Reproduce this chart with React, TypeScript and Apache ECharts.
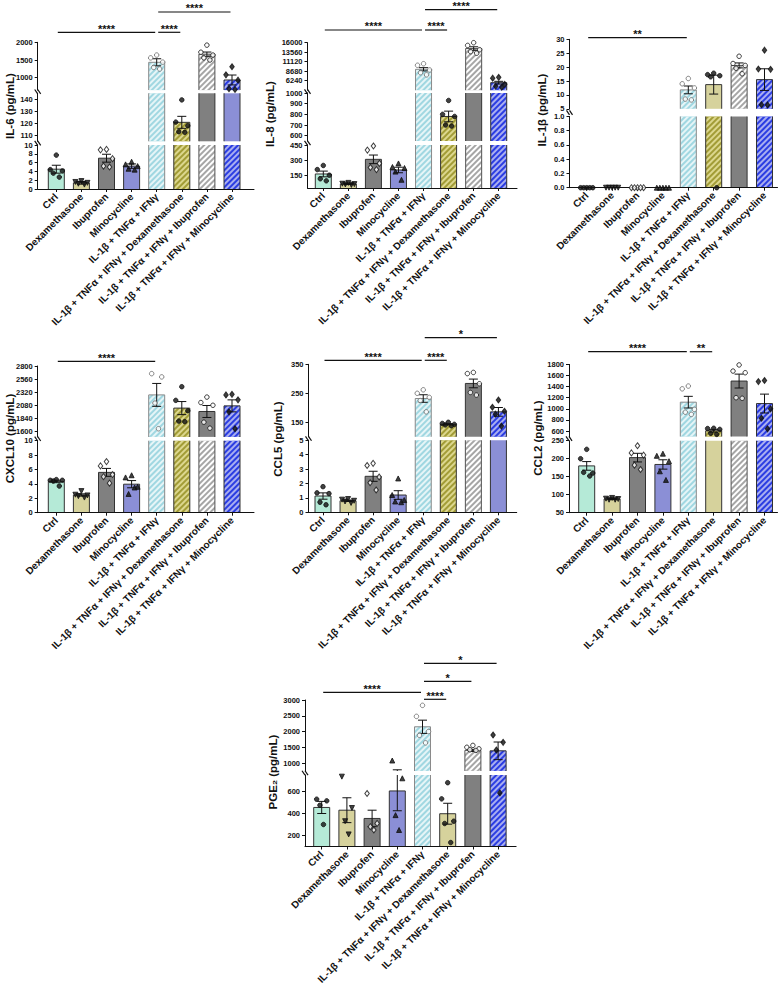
import { useEffect, useRef } from 'react';
import * as echarts from 'echarts';

// Treatment groups (x categories)
const categories = [
  'Ctrl',
  'Dexamethasone',
  'Ibuprofen',
  'Minocycline',
  'IL-1β + TNFα + IFNγ',
  'IL-1β + TNFα + IFNγ + Dexamethasone',
  'IL-1β + TNFα + IFNγ + Ibuprofen',
  'IL-1β + TNFα + IFNγ + Minocycline',
];

// ---- IL-6 ----
const il6Means = [4.5, 1.4, 7.0, 5.2, 1435, 120.8, 1665, 936];
const il6Sems = [0.9, 0.3, 0.9, 0.5, 100, 5, 60, 140];
const il6Points = [
  [7.7, 4.4, 4.1, 3.6, 2.7],
  [1.8, 1.6, 1.4, 1.2, 1.0],
  [9.0, 8.9, 6.9, 5.2, 5.0],
  [6.2, 5.6, 5.2, 4.6, 4.4],
  [1640, 1560, 1440, 1290, 1245],
  [139.5, 121, 118, 113, 112.5],
  [1920, 1720, 1640, 1560, 1500],
  [1310, 1080, 930, 690, 670],
];
const il6Ticks = [[1000, 1500, 2000], [110, 120, 130, 140], [0, 2, 4, 6, 8, 10]];

// ---- IL-8 ----
const il8Means = [167, 69, 310, 206, 9170, 780, 14500, 5730];
const il8Sems = [28, 5, 42, 27, 420, 50, 450, 350];
const il8Points = [
  [250, 210, 155, 120, 100],
  [80, 72, 68, 65, 60],
  [440, 400, 270, 230, 210],
  [270, 235, 225, 190, 110],
  [10600, 10200, 9000, 8300, 7750],
  [930, 800, 780, 700, 690],
  [16000, 15300, 14200, 13700, 13300],
  [7100, 6900, 5300, 4800, 4550],
];
const il8Ticks = [[6240, 8680, 11120, 13560, 16000], [600, 700, 800, 900, 1000], [150, 300, 450]];

// ---- IL-1β ----
const il1bMeans = [0, 0, 0, 0, 11.8, 13.7, 20.6, 15.5];
const il1bSems = [0, 0, 0, 0, 1.4, 3.4, 0.9, 3.9];
const il1bPoints = [
  [0, 0, 0, 0, 0],
  [0, 0, 0, 0, 0],
  [0, 0, 0, 0, 0],
  [0, 0, 0, 0, 0],
  [15.9, 14, 12.5, 8.5, 8.2],
  [17.8, 17.3, 16.9, 16.5, 0],
  [23.9, 21.3, 20.6, 19.6, 17.6],
  [26.1, 19.3, 19.2, 6.5, 6.4],
];
const il1bTicks = [[5, 10, 15, 20, 25, 30], [0, 0.2, 0.4, 0.6, 0.8, 1.0]];

// ---- CXCL10 ----
const cxcl10Means = [4.34, 2.46, 5.6, 3.96, 2270, 2028, 1966, 2069];
const cxcl10Sems = [0.17, 0.16, 0.55, 0.5, 210, 120, 110, 110];
const cxcl10Points = [
  [4.6, 4.5, 4.5, 4.4, 3.7],
  [3.0, 2.5, 2.4, 2.3, 2.1],
  [7.1, 6.5, 5.3, 5.0, 4.1],
  [5.2, 4.9, 3.6, 2.6, 3.5],
  [2660, 2600, 2120, 1650],
  [2420, 2170, 1980, 1790, 1780],
  [2230, 2130, 2080, 1770, 1660],
  [2280, 2270, 2180, 1960, 1650],
];
const cxcl10Ticks = [[1600, 1840, 2080, 2320, 2560, 2800], [0, 2, 4, 6, 8, 10]];

// ---- CCL5 ----
const ccl5Means = [1.13, 0.8, 2.5, 1.2, 232, 143, 284, 186];
const ccl5Sems = [0.22, 0.05, 0.35, 0.3, 13, 2, 15, 15];
const ccl5Points = [
  [1.78, 1.35, 1.3, 0.7, 0.52],
  [0.92, 0.88, 0.8, 0.75, 0.65],
  [3.4, 3.25, 2.45, 2.05, 1.55],
  [2.35, 1.2, 0.85, 0.75, 0.7],
  [262, 250, 236, 225, 186],
  [150, 146, 143, 141, 138],
  [322, 318, 283, 253, 244],
  [227, 202, 188, 178, 137],
];
const ccl5Ticks = [[150, 250, 350], [0, 1, 2, 3, 4, 5]];

// ---- CCL2 ----
const ccl2Means = [180, 88, 203, 184, 1120, 605, 1500, 1095];
const ccl2Sems = [12, 1.5, 12, 13, 105, 25, 125, 170];
const ccl2Points = [
  [226, 200, 160, 162, 152],
  [91, 89, 88, 86, 86],
  [236, 216, 210, 182, 170],
  [214, 208, 193, 165, 141],
  [1410, 1360, 990, 940, 900],
  [650, 645, 630, 560, 540],
  [1790, 1680, 1650, 1200, 1190],
  [1510, 1490, 1000, 830, 640],
];
const ccl2Ticks = [[600, 800, 1000, 1200, 1400, 1600, 1800], [50, 100, 150, 200, 250]];

// ---- PGE2 ----
const pge2Means = [455, 430, 355, 605, 2150, 398, 1400, 1387];
const pge2Sems = [55, 113, 75, 180, 210, 95, 35, 280];
const pge2Points = [
  [530, 515, 475, 300],
  [735, 450, 330, 210],
  [582, 310, 280, 250],
  [1080, 720, 385, 250],
  [2830, 2480, 2000, 1880, 1640],
  [680, 533, 330, 309, 136],
  [1560, 1500, 1450, 1420, 1400],
  [1890, 1657, 1413, 587],
];
const pge2Ticks = [[1000, 1500, 2000, 2500, 3000], [200, 400, 600]];

const FONT = "'Liberation Sans', Arial, Helvetica, sans-serif";
const INK = '#111';
const BAR_W = 16;

// Bar fills: solid colours and hatched variants
const fills: Record<string, { base: string; stripe?: string; edge: string }> = {
  mint: { base: '#b5ead7', edge: '#333' },
  khaki: { base: '#d6d29c', edge: '#333' },
  gray: { base: '#808080', edge: '#333' },
  lav: { base: '#8b8fd6', edge: '#333' },
  cyanH: { base: '#a0d7e1', stripe: '#e6f5f7', edge: '#8a8a8a' },
  oliveH: { base: '#a29c36', stripe: '#dcd78e', edge: '#333' },
  grayH: { base: '#a6a6a6', stripe: '#ffffff', edge: '#555' },
  blueH: { base: '#2b3de2', stripe: '#a9aef0', edge: '#333' },
};

const barStyle = (key: string) => {
  const f = fills[key];
  const style: any = { color: f.base, borderWidth: 0 };
  if (f.stripe) {
    style.decal = {
      symbol: 'rect',
      symbolSize: 1,
      color: f.stripe,
      dashArrayX: [1, 0],
      dashArrayY: [2, 2],
      rotation: -Math.PI / 4,
    };
  }
  return style;
};

// Marker per group
const markers = [
  { symbol: 'circle', size: 4.5, rotate: 0, fill: INK, stroke: INK },
  { symbol: 'triangle', size: 5, rotate: 180, fill: INK, stroke: INK },
  { symbol: 'diamond', size: [4.5, 6], rotate: 0, fill: '#fff', stroke: INK },
  { symbol: 'triangle', size: 5, rotate: 0, fill: INK, stroke: INK },
  { symbol: 'circle', size: 4.5, rotate: 0, fill: '#fff', stroke: '#666' },
  { symbol: 'circle', size: 4.5, rotate: 0, fill: INK, stroke: INK },
  { symbol: 'circle', size: 4.5, rotate: 0, fill: '#fff', stroke: INK },
  { symbol: 'diamond', size: [4.5, 6], rotate: 0, fill: INK, stroke: INK },
];

// Horizontal scatter spread of replicate points (in category units)
const spreads: Record<number, number[]> = {
  1: [0],
  2: [-0.12, 0.12],
  3: [0, -0.2, 0.2],
  4: [-0.2, 0.2, -0.07, 0.07],
  5: [0, -0.24, 0.24, -0.12, 0.12],
};

const low = ['mint', 'khaki', 'gray', 'lav'];
const seg = (...high: string[]) => [...low, ...high];

type Segment = {
  min: number; max: number; top: number; bottom: number;
  ticks: number[]; fills: string[]; decimals?: number;
};
type Sig = { a: number; b: number; y: number; label: string };
type Panel = {
  title: string; titleX: number; titleY: number;
  means: number[]; sems: number[]; points: number[][];
  axisX: number; firstGap: number; pitch: number; lastGap: number;
  segments: Segment[]; sig: Sig[];
};

const panels: Panel[] = [
  {
    title: 'IL-6 (pg/mL)', titleX: 9.5, titleY: 106,
    means: il6Means, sems: il6Sems, points: il6Points,
    axisX: 37.7, firstGap: 18.6, pitch: 25.1, lastGap: 22,
    segments: [
      { min: 650, max: 2000, top: 42.3, bottom: 90.1, ticks: il6Ticks[0], fills: seg('cyanH', 'oliveH', 'grayH', 'blueH') },
      { min: 105, max: 145, top: 93.3, bottom: 141.3, ticks: il6Ticks[1], fills: seg('cyanH', 'oliveH', 'gray', 'lav') },
      { min: 0, max: 10, top: 145, bottom: 189, ticks: il6Ticks[2], fills: seg('cyanH', 'oliveH', 'grayH', 'blueH') },
    ],
    sig: [
      { a: 0, b: 4, y: 32.3, label: '****' },
      { a: 4, b: 5, y: 32.3, label: '****' },
      { a: 4, b: 7, y: 12, label: '****' },
    ],
  },
  {
    title: 'IL-8 (pg/mL)', titleX: 270, titleY: 114,
    means: il8Means, sems: il8Sems, points: il8Points,
    axisX: 307.5, firstGap: 15.8, pitch: 25.06, lastGap: 18.3,
    segments: [
      { min: 3800, max: 16000, top: 42.7, bottom: 90.2, ticks: il8Ticks[0], fills: seg('cyanH', 'oliveH', 'grayH', 'blueH') },
      { min: 550, max: 1000, top: 93, bottom: 141, ticks: il8Ticks[1], fills: seg('cyanH', 'oliveH', 'gray', 'blueH') },
      { min: 30, max: 450, top: 145, bottom: 188, ticks: il8Ticks[2], fills: seg('cyanH', 'oliveH', 'grayH', 'blueH') },
    ],
    sig: [
      { a: 0, b: 4, y: 30, label: '****' },
      { a: 4, b: 5, y: 30, label: '****' },
      { a: 4, b: 7, y: 9.7, label: '****' },
    ],
  },
  {
    title: 'IL-1β (pg/mL)', titleX: 542, titleY: 110,
    means: il1bMeans, sems: il1bSems, points: il1bPoints,
    axisX: 569.5, firstGap: 17.2, pitch: 25.4, lastGap: 13,
    segments: [
      { min: 5, max: 30, top: 39.3, bottom: 108.8, ticks: il1bTicks[0], fills: seg('cyanH', 'khaki', 'grayH', 'blueH') },
      { min: 0, max: 1, top: 116.4, bottom: 187.7, ticks: il1bTicks[1], fills: seg('cyanH', 'oliveH', 'gray', 'blueH'), decimals: 1 },
    ],
    sig: [{ a: 0, b: 4, y: 37.7, label: '**' }],
  },
  {
    title: 'CXCL10 (pg/mL)', titleX: 9.5, titleY: 438.5,
    means: cxcl10Means, sems: cxcl10Sems, points: cxcl10Points,
    axisX: 37.7, firstGap: 18.6, pitch: 25.1, lastGap: 22,
    segments: [
      { min: 1500, max: 2800, top: 366, bottom: 436.9, ticks: cxcl10Ticks[0], fills: seg('cyanH', 'oliveH', 'gray', 'blueH') },
      { min: 0, max: 10, top: 440.7, bottom: 512.7, ticks: cxcl10Ticks[1], fills: seg('cyanH', 'oliveH', 'grayH', 'blueH') },
    ],
    sig: [{ a: 0, b: 4, y: 361.3, label: '****' }],
  },
  {
    title: 'CCL5 (pg/mL)', titleX: 277.5, titleY: 439,
    means: ccl5Means, sems: ccl5Sems, points: ccl5Points,
    axisX: 308.5, firstGap: 14.5, pitch: 25.06, lastGap: 18.3,
    segments: [
      { min: 100, max: 350, top: 364.3, bottom: 436.8, ticks: ccl5Ticks[0], fills: seg('cyanH', 'oliveH', 'gray', 'blueH') },
      { min: 0, max: 5, top: 440.3, bottom: 512.3, ticks: ccl5Ticks[1], fills: seg('cyanH', 'oliveH', 'grayH', 'lav') },
    ],
    sig: [
      { a: 0, b: 4, y: 360.3, label: '****' },
      { a: 4, b: 5, y: 360.3, label: '****' },
      { a: 4, b: 7, y: 337.7, label: '*' },
    ],
  },
  {
    title: 'CCL2 (pg/mL)', titleX: 537.5, titleY: 438,
    means: ccl2Means, sems: ccl2Sems, points: ccl2Points,
    axisX: 569, firstGap: 17.7, pitch: 25.4, lastGap: 13,
    segments: [
      { min: 500, max: 1800, top: 364.4, bottom: 436.6, ticks: ccl2Ticks[0], fills: seg('cyanH', 'oliveH', 'gray', 'blueH') },
      { min: 50, max: 250, top: 440.7, bottom: 512.7, ticks: ccl2Ticks[1], fills: seg('cyanH', 'khaki', 'grayH', 'blueH') },
    ],
    sig: [
      { a: 0, b: 4, y: 351.7, label: '****' },
      { a: 4, b: 5, y: 351.7, label: '**' },
    ],
  },
  {
    title: 'PGE₂ (pg/mL)', titleX: 272.5, titleY: 772,
    means: pge2Means, sems: pge2Sems, points: pge2Points,
    axisX: 305, firstGap: 16.7, pitch: 25.2, lastGap: 18,
    segments: [
      { min: 750, max: 3000, top: 700, bottom: 770.9, ticks: pge2Ticks[0], fills: seg('cyanH', 'oliveH', 'grayH', 'blueH') },
      { min: 100, max: 750, top: 775, bottom: 846.5, ticks: pge2Ticks[1], fills: seg('cyanH', 'khaki', 'gray', 'blueH') },
    ],
    sig: [
      { a: 0, b: 4, y: 692.3, label: '****' },
      { a: 4, b: 5, y: 699.3, label: '****' },
      { a: 4, b: 6, y: 681.3, label: '*' },
      { a: 4, b: 7, y: 663.3, label: '*' },
    ],
  },
];

const catIndex = categories.map((_, i) => i);

// Mean ± SEM whiskers
const errorRender = (params: any, api: any) => {
  const x = api.value(0);
  const lo = api.value(1);
  const hi = api.value(2);
  if (hi - lo <= 0) return null;
  const t = api.coord([x, hi]);
  const b = api.coord([x, lo]);
  const hw = 4.5;
  const style = { stroke: INK, lineWidth: 1 };
  return {
    type: 'group',
    children: [
      { type: 'line', shape: { x1: t[0], y1: t[1], x2: b[0], y2: b[1] }, style },
      { type: 'line', shape: { x1: t[0] - hw, y1: t[1], x2: t[0] + hw, y2: t[1] }, style },
      { type: 'line', shape: { x1: b[0] - hw, y1: b[1], x2: b[0] + hw, y2: b[1] }, style },
    ],
  };
};

export default function App() {
  const ref = useRef<HTMLDivElement>(null);

  useEffect(() => {
    if (!ref.current) return;
    const chart = echarts.init(ref.current, null, { renderer: 'svg' });

    const grid: any[] = [];
    const xAxis: any[] = [];
    const yAxis: any[] = [];
    const series: any[] = [];
    const bottomIndex: number[] = [];

    panels.forEach((p) => {
      const xmin = -p.firstGap / p.pitch;
      const xmax = 7 + p.lastGap / p.pitch;
      const width = (xmax - xmin) * p.pitch;

      p.segments.forEach((s, si) => {
        const gi = grid.length;
        const isBottom = si === p.segments.length - 1;
        if (isBottom) bottomIndex.push(gi);

        grid.push({ left: p.axisX, top: s.top, width, height: s.bottom - s.top });

        xAxis.push({
          type: 'value',
          gridIndex: gi,
          min: xmin,
          max: xmax,
          show: isBottom,
          z: 5,
          splitLine: { show: false },
          axisLine: { show: isBottom, onZero: false, lineStyle: { color: INK, width: 1 } },
          axisTick: { show: isBottom, customValues: catIndex, length: 3, lineStyle: { color: INK, width: 1 } },
          axisLabel: {
            show: isBottom,
            customValues: catIndex,
            formatter: (v: number) => categories[Math.round(v)] ?? '',
            rotate: 45,
            margin: 6,
            fontFamily: FONT,
            fontWeight: 'bold',
            fontSize: 10,
            color: INK,
          },
        });

        yAxis.push({
          type: 'value',
          gridIndex: gi,
          min: s.min,
          max: s.max,
          z: 5,
          splitLine: { show: false },
          axisLine: { show: true, onZero: false, lineStyle: { color: INK, width: 1 } },
          axisTick: { show: true, customValues: s.ticks, length: 3, lineStyle: { color: INK, width: 1 } },
          axisLabel: {
            customValues: s.ticks,
            formatter: (v: number) => (s.decimals ? v.toFixed(s.decimals) : String(v)),
            margin: 5,
            fontFamily: FONT,
            fontWeight: 'bold',
            fontSize: 7.5,
            lineHeight: 7,
            color: INK,
          },
        });

        // Bar fills (no outline; outlines drawn below so cut edges stay open)
        series.push({
          type: 'bar',
          xAxisIndex: gi,
          yAxisIndex: gi,
          barWidth: BAR_W,
          clip: true,
          z: 2,
          data: p.means.map((m, i) => ({ value: [i, m], itemStyle: barStyle(s.fills[i]) })),
        });

        // Bar outlines: sides and top only
        series.push({
          type: 'custom',
          xAxisIndex: gi,
          yAxisIndex: gi,
          clip: true,
          z: 3,
          data: p.means.map((m, i) => [i, m, i]),
          renderItem: (params: any, api: any) => {
            const x = api.value(0);
            const v = api.value(1);
            if (v <= 0) return null;
            const top = api.coord([x, v]);
            const base = api.coord([x, Math.min(0, s.min)]);
            const hw = BAR_W / 2;
            const edge = fills[s.fills[params.dataIndex]].edge;
            return {
              type: 'polyline',
              shape: {
                points: [
                  [top[0] - hw, base[1] + 2],
                  [top[0] - hw, top[1]],
                  [top[0] + hw, top[1]],
                  [top[0] + hw, base[1] + 2],
                ],
              },
              style: { stroke: edge, lineWidth: 1, fill: null },
            };
          },
        });

        series.push({
          type: 'custom',
          xAxisIndex: gi,
          yAxisIndex: gi,
          clip: true,
          z: 4,
          renderItem: errorRender,
          data: p.means.map((m, i) => [i, m - p.sems[i], m + p.sems[i]]),
        });

        const pts: any[] = [];
        p.points.forEach((arr, i) => {
          const mk = markers[i];
          const off = spreads[arr.length] || spreads[5];
          arr.forEach((v, k) => {
            pts.push({
              value: [i + off[k % off.length], v],
              symbol: mk.symbol,
              symbolSize: mk.size,
              symbolRotate: mk.rotate,
              itemStyle: { color: mk.fill, borderColor: mk.stroke, borderWidth: 1 },
            });
          });
        });
        series.push({
          type: 'scatter',
          xAxisIndex: gi,
          yAxisIndex: gi,
          clip: true,
          z: 6,
          data: pts,
        });
      });
    });

    chart.setOption({ animation: false, backgroundColor: '#fff', grid, xAxis, yAxis, series });

    // Annotations: axis titles, axis break marks and significance brackets
    const graphic: any[] = [];
    panels.forEach((p, pi) => {
      const gi = bottomIndex[pi];
      const px = (i: number) => chart.convertToPixel({ xAxisIndex: gi } as any, i) as unknown as number;

      graphic.push({
        type: 'text',
        x: p.titleX,
        y: p.titleY,
        rotation: Math.PI / 2,
        style: {
          text: p.title,
          fill: INK,
          font: `bold 11.5px ${FONT}`,
          align: 'center',
          verticalAlign: 'middle',
        },
      });

      for (let k = 0; k < p.segments.length - 1; k++) {
        const y = (p.segments[k].bottom + p.segments[k + 1].top) / 2;
        [-1.5, 1.5].forEach((dx) => {
          graphic.push({
            type: 'line',
            shape: { x1: p.axisX + dx - 1.5, y1: y - 2.2, x2: p.axisX + dx + 1.5, y2: y + 2.2 },
            style: { stroke: INK, lineWidth: 1.2 },
          });
        });
      }

      p.sig.forEach((s) => {
        const x1 = px(s.a) + 1.5;
        const x2 = px(s.b) - 1.5;
        graphic.push({
          type: 'line',
          shape: { x1, y1: s.y, x2, y2: s.y },
          style: { stroke: INK, lineWidth: 1.2 },
        });
        graphic.push({
          type: 'text',
          x: (x1 + x2) / 2,
          y: s.y - 3.6,
          style: {
            text: s.label,
            fill: INK,
            font: `bold 11px ${FONT}`,
            lineHeight: 8,
            align: 'center',
            verticalAlign: 'middle',
          },
        });
      });
    });

    chart.setOption({ graphic });

    return () => chart.dispose();
  }, []);

  return (
    <div
      ref={ref}
      style={{ position: 'fixed', left: 0, top: 0, width: 784, height: 994, background: '#fff' }}
    />
  );
}
